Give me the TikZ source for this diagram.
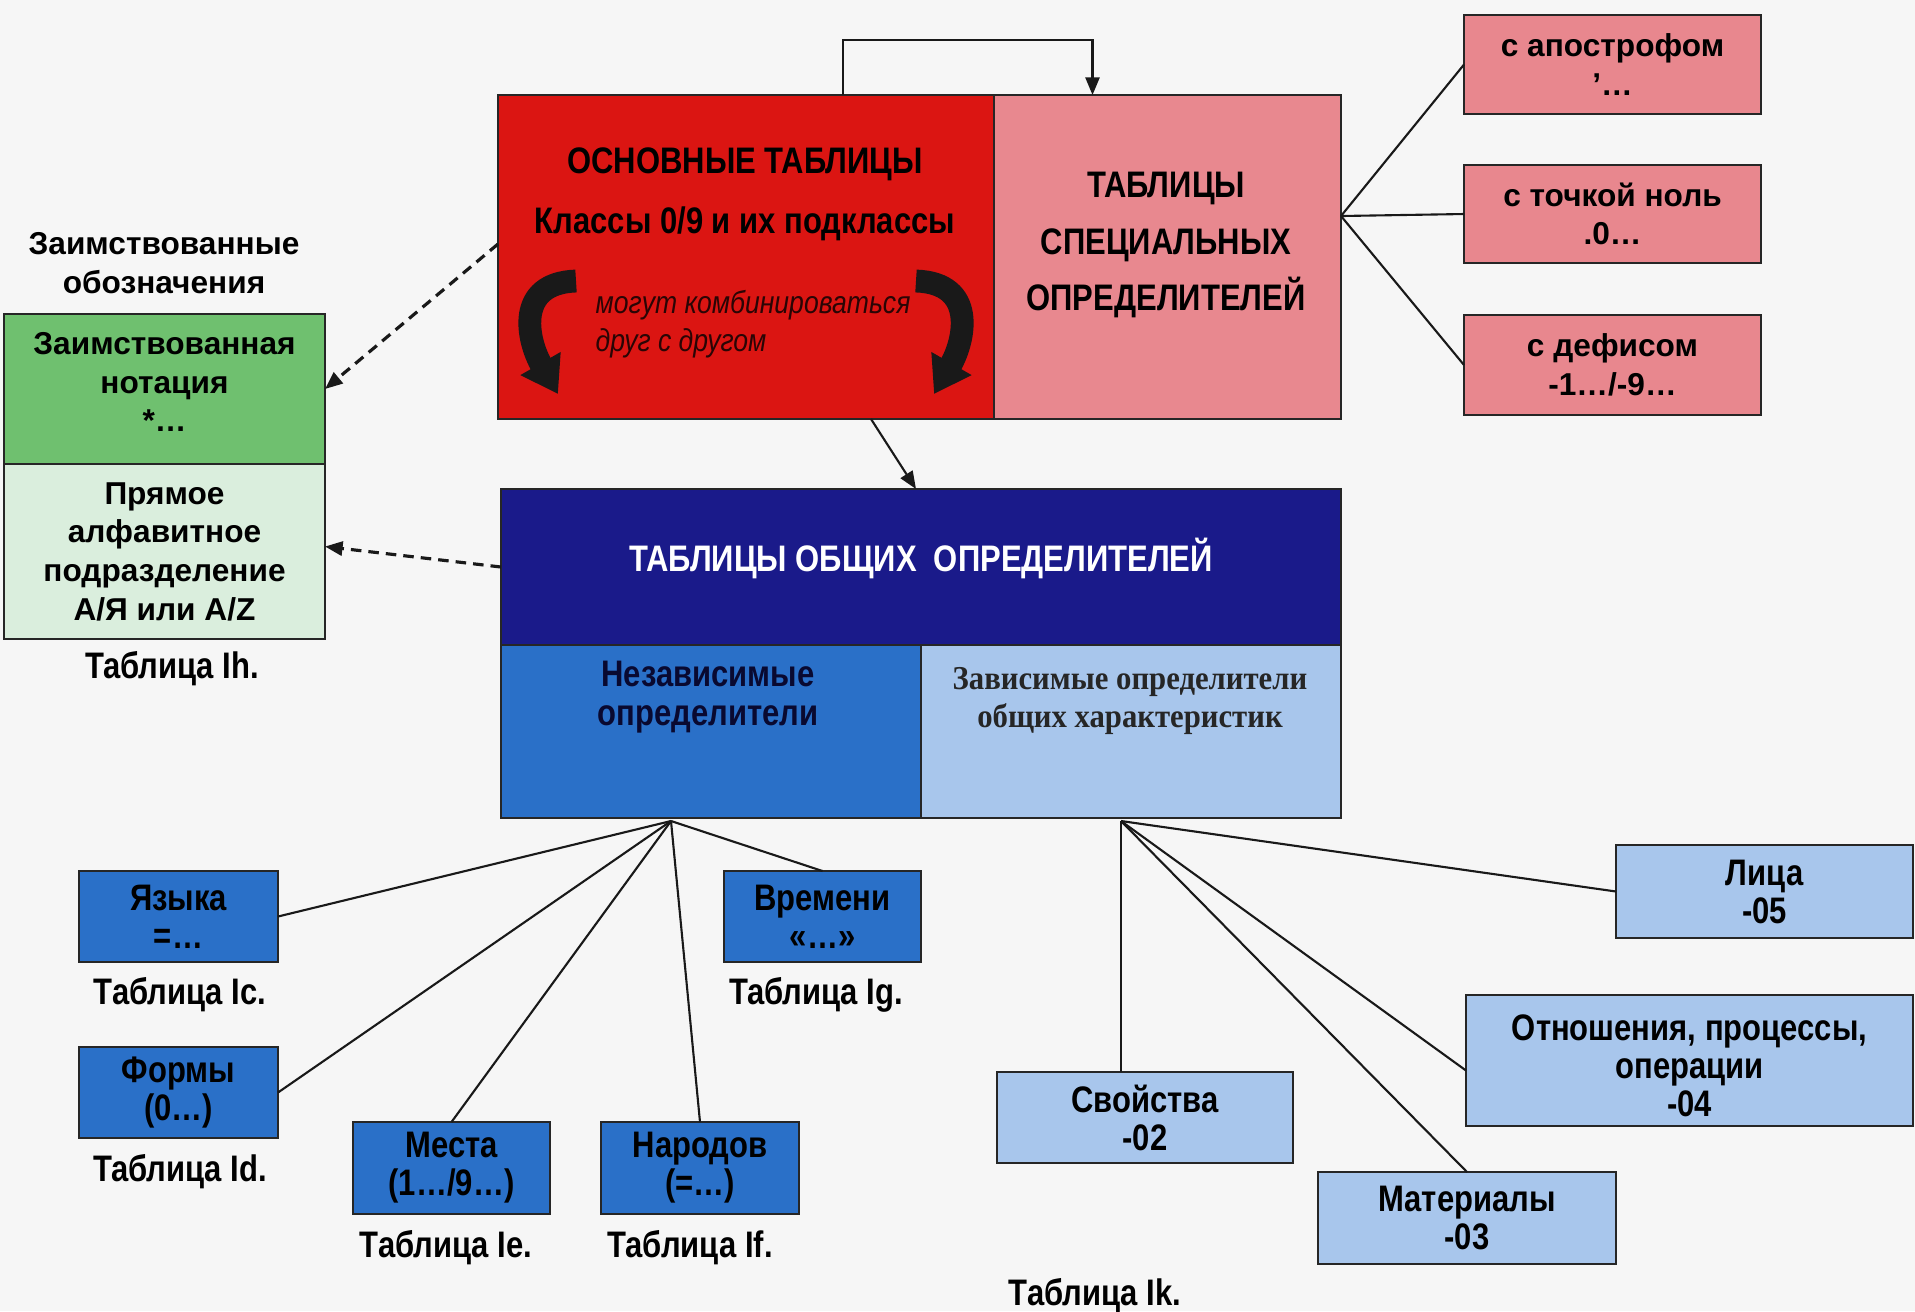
\documentclass[tikz,border=0pt]{standalone}
\usepackage{fontspec}
\setmainfont{Liberation Sans}
\newfontfamily\narrowfont{Liberation Sans}[FakeStretch=0.84]
\newfontfamily\seriffont{Liberation Serif}[FakeStretch=0.92]
\usetikzlibrary{arrows.meta,calc,positioning}
\definecolor{paperColor}{HTML}{F6F6F6}
\definecolor{baseColor}{HTML}{DB1512}
\definecolor{specColor}{HTML}{E8888F}
\definecolor{subColor}{HTML}{E8878E}
\definecolor{borrowColor}{HTML}{6FC06F}
\definecolor{alphaColor}{HTML}{DAEEDD}
\definecolor{genColor}{HTML}{1A1A8A}
\definecolor{indColor}{HTML}{2A70C8}
\definecolor{depColor}{HTML}{A8C6EC}
\definecolor{comboColor}{HTML}{2A0505}
\tikzset{
	box/.style={draw=black!85, line width=0.8pt, rectangle, inner sep=0, outer sep=0},
	bigtext/.style={font=\narrowfont\bfseries\fontsize{10.5}{16.2}\selectfont, align=center},
	boxtext/.style={font=\narrowfont\bfseries\fontsize{10.5}{10.8}\selectfont, align=center},
	widetext/.style={font=\bfseries\fontsize{9}{11}\selectfont, align=center},
	link/.style={draw=black!90, line width=0.6pt},
	borrowed/.style={->, draw=black!90, line width=0.9pt, dash pattern=on 3pt off 2pt},
	combo/.style={black!90, line width=6.5pt, -{Triangle[length=10pt,width=12.5pt]}}
}
\begin{document}
\begin{tikzpicture}[x=0.1mm,y=-0.1mm,>={Triangle[length=5pt,width=4pt]}]
	\useasboundingbox[fill=paperColor] (0,0) rectangle (1915,1311);
	% main tables and special determinants
	\node[box, fill=baseColor, minimum width=49.6mm, minimum height=32.4mm] (base) at (746,257) {};
	\node[box, fill=specColor, minimum width=34.7mm, minimum height=32.4mm] (spec) at (1167.5,257) {};
	\node[bigtext] (base_1) at (745,164) {ОСНОВНЫЕ ТАБЛИЦЫ};
	\node[bigtext] (base_2) at (745,224) {Классы 0/9 и их подклассы};
	\node[font=\narrowfont\itshape\fontsize{9}{11}\selectfont, text=comboColor, align=left, anchor=west, inner sep=0] (combo_t) at (595,324) {могут комбинироваться\\друг с другом};
	\draw[combo] (576,281) .. controls (515,283) and (527,340) .. (558,394);
	\draw[combo] (916,281) .. controls (977,283) and (965,340) .. (934,394);
	\node[bigtext] (spec_t) at (1166,245) {ТАБЛИЦЫ\\СПЕЦИАЛЬНЫХ\\ОПРЕДЕЛИТЕЛЕЙ};
	\draw[->, link] ($(base.north)+(97,0)$) -- ++(0,-55) -| ($(spec.north)+(-75,0)$);
	% sub-boxes of special determinants
	\node[box, fill=subColor, widetext, minimum width=29.7mm, minimum height=9.9mm] (apos) at (1612.5,64.5) {с апострофом\\’…};
	\node[box, fill=subColor, widetext, minimum width=29.7mm, minimum height=9.8mm] (dot) at (1612.5,214) {с точкой ноль\\.0…};
	\node[box, fill=subColor, widetext, minimum width=29.7mm, minimum height=10mm] (hyph) at (1612.5,365) {с дефисом\\-1…/-9…};
	\coordinate (spec_hub) at ($(spec.north east)+(0,121)$);
	\foreach \s in {apos,dot,hyph}
		\draw[link] (spec_hub) -- (\s.west);
	% borrowed notations
	\node[widetext] (borrow_h) at (164,263) {Заимствованные\\обозначения};
	\node[box, fill=borrowColor, minimum width=32.1mm, minimum height=15mm] (borrow) at (164.5,389) {};
	\node[widetext] (borrow_t) at (164.5,382) {Заимствованная\\нотация\\*…};
	\node[box, fill=alphaColor, widetext, minimum width=32.1mm, minimum height=17.5mm] (alpha) at (164.5,551.5) {Прямое\\алфавитное\\подразделение\\А/Я или A/Z};
	\node[boxtext] (borrow_l) at (172,669) {Таблица Ih.};
	% common determinants
	\node[box, fill=genColor, minimum width=84mm, minimum height=15.6mm] (gen) at (921,567) {};
	\node[bigtext, text=white] (gen_t) at (921,558) {ТАБЛИЦЫ ОБЩИХ\ \ ОПРЕДЕЛИТЕЛЕЙ};
	\node[box, fill=indColor, minimum width=42mm, minimum height=17.3mm] (indep) at (711,731.5) {};
	\node[box, fill=depColor, minimum width=42mm, minimum height=17.3mm] (dep) at (1131,731.5) {};
	\node[boxtext, text=genColor!35!black, font=\narrowfont\bfseries\fontsize{10.5}{11}\selectfont] (indep_t) at (708,697) {Независимые\\определители};
	\node[font=\seriffont\bfseries\fontsize{9.5}{11}\selectfont, align=center, text=black!85] (dep_t) at (1130,701) {Зависимые определители\\общих характеристик};
	\draw[->, link] ($(base.south)+(125,0)$) -- ($(gen.north)+(-5,0)$);
	\draw[borrowed] ($(base.west)+(0,-13)$) -- (borrow.east);
	\draw[borrowed] (gen.west) -- ($(alpha.east)+(0,-5)$);
	% independent determinants
	\node[box, fill=indColor, boxtext, minimum width=19.9mm, minimum height=9.1mm] (lang) at (178.5,916.5) {Языка\\=…};
	\node[box, fill=indColor, boxtext, minimum width=19.9mm, minimum height=9.1mm] (form) at (178.5,1092.5) {Формы\\(0…)};
	\node[box, fill=indColor, boxtext, minimum width=19.7mm, minimum height=9.2mm] (place) at (451.5,1168) {Места\\(1…/9…)};
	\node[box, fill=indColor, boxtext, minimum width=19.8mm, minimum height=9.2mm] (people) at (700,1168) {Народов\\(=…)};
	\node[box, fill=indColor, boxtext, minimum width=19.7mm, minimum height=9.1mm] (time) at (822.5,916.5) {Времени\\«…»};
	\node[boxtext] (lang_l) at (180,995) {Таблица Ic.};
	\node[boxtext] (form_l) at (180,1172) {Таблица Id.};
	\node[boxtext] (place_l) at (446,1248) {Таблица Ie.};
	\node[boxtext] (people_l) at (690,1248) {Таблица If.};
	\node[boxtext] (time_l) at (816,995) {Таблица Ig.};
	\coordinate (indep_hub) at ($(indep.south)+(-40,3)$);
	\draw[link] (indep_hub) -- (lang.east);
	\draw[link] (indep_hub) -- (form.east);
	\draw[link] (indep_hub) -- (place.north);
	\draw[link] (indep_hub) -- (people.north);
	\draw[link] (indep_hub) -- (time.north);
	% dependent determinants
	\node[box, fill=depColor, boxtext, minimum width=29.7mm, minimum height=9.3mm] (face) at (1764.5,891.5) {Лица\\-05};
	\node[box, fill=depColor, minimum width=44.7mm, minimum height=13.1mm] (rel) at (1689.5,1060.5) {};
	\node[boxtext] (rel_t) at (1689.5,1066) {Отношения, процессы,\\операции\\-04};
	\node[box, fill=depColor, boxtext, minimum width=29.6mm, minimum height=9.1mm] (prop) at (1145,1117.5) {Свойства\\-02};
	\node[box, fill=depColor, boxtext, minimum width=29.8mm, minimum height=9.2mm] (mat) at (1467,1218) {Материалы\\-03};
	\node[boxtext] (dep_l) at (1095,1296) {Таблица Ik.};
	\coordinate (dep_hub) at ($(dep.south)+(-10,3)$);
	\draw[link] (dep_hub) -- (dep_hub |- prop.north);
	\draw[link] (dep_hub) -- (mat.north);
	\draw[link] (dep_hub) -- ($(rel.west)+(0,10)$);
	\draw[link] (dep_hub) -- (face.west);
\end{tikzpicture}
\end{document}
